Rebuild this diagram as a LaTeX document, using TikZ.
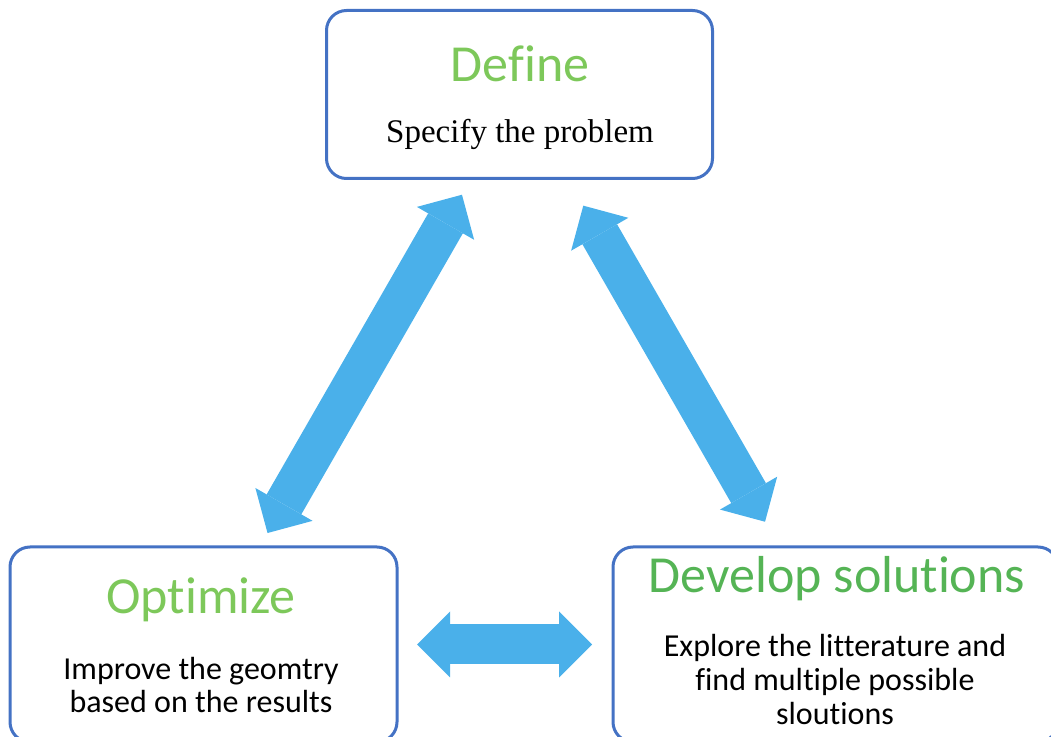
\documentclass[tikz,border=0pt]{standalone}
\usepackage{fontspec}
\setmainfont{Carlito}[Ligatures=NoCommon]
\newfontfamily\timesfont{Liberation Serif}
\usetikzlibrary{arrows.meta, positioning}
\definecolor{boxblue}{HTML}{4472C4}
\definecolor{arrowblue}{HTML}{4AB0EA}
\definecolor{lightgreen}{HTML}{7DC85A}
\definecolor{darkgreen}{HTML}{55B455}

\begin{document}
\begin{tikzpicture}[
    x=0.5pt, y=-0.5pt,
    stage/.style={
        rectangle, draw=boxblue, line width=1.5pt,
        rounded corners=10pt, inner sep=0pt
    },
    title/.style={font=\fontsize{26}{30}\selectfont, anchor=base},
    body/.style={
        font=\fontsize{16}{17}\selectfont,
        align=center, anchor=base, inner sep=0pt
    },
    fatarrow/.style={
        {Triangle[length=16.5pt, width=33pt, line width=0pt]}-{Triangle[length=16.5pt, width=33pt, line width=0pt]},
        line width=20pt, arrowblue
    }
]
\useasboundingbox (0,0) rectangle (1051,737);

% the three stages
\node[stage, minimum width=193pt, minimum height=84pt] (define) at (519.5,94.5) {};
\node[stage, minimum width=193.5pt, minimum height=97.5pt] (optimize) at (203.5,644.5) {};
\node[stage, minimum width=222.5pt, minimum height=97.5pt] (develop) at (835.5,644.5) {};

% texts, placed on the baseline of their last line
\node[title, lightgreen] (definetitle) at (520,82) {Define};
\node[body, font=\timesfont\fontsize{16.5}{18}\selectfont] (definetext) at (520,143) {Specify the problem};

\node[title, lightgreen] (optimizetitle) at (201,614) {Optimize};
\node[body] (optimizetext) at (201,713) {Improve the geomtry\\based on the results};

\node[title, darkgreen] (developtitle) at (837,593) {Develop solutions};
\node[body] (developtext) at (835,725) {Explore the litterature and\\find multiple possible\\sloutions};

% two-way arrows
\draw[fatarrow, shorten <=7.2pt, shorten >=8.5pt] (optimize) -- (define);
\draw[fatarrow, shorten <=14.8pt, shorten >=13.7pt] (define) -- (develop);
\draw[fatarrow, shorten <=9.25pt, shorten >=9.75pt] (optimize) -- (develop);
\end{tikzpicture}
\end{document}
